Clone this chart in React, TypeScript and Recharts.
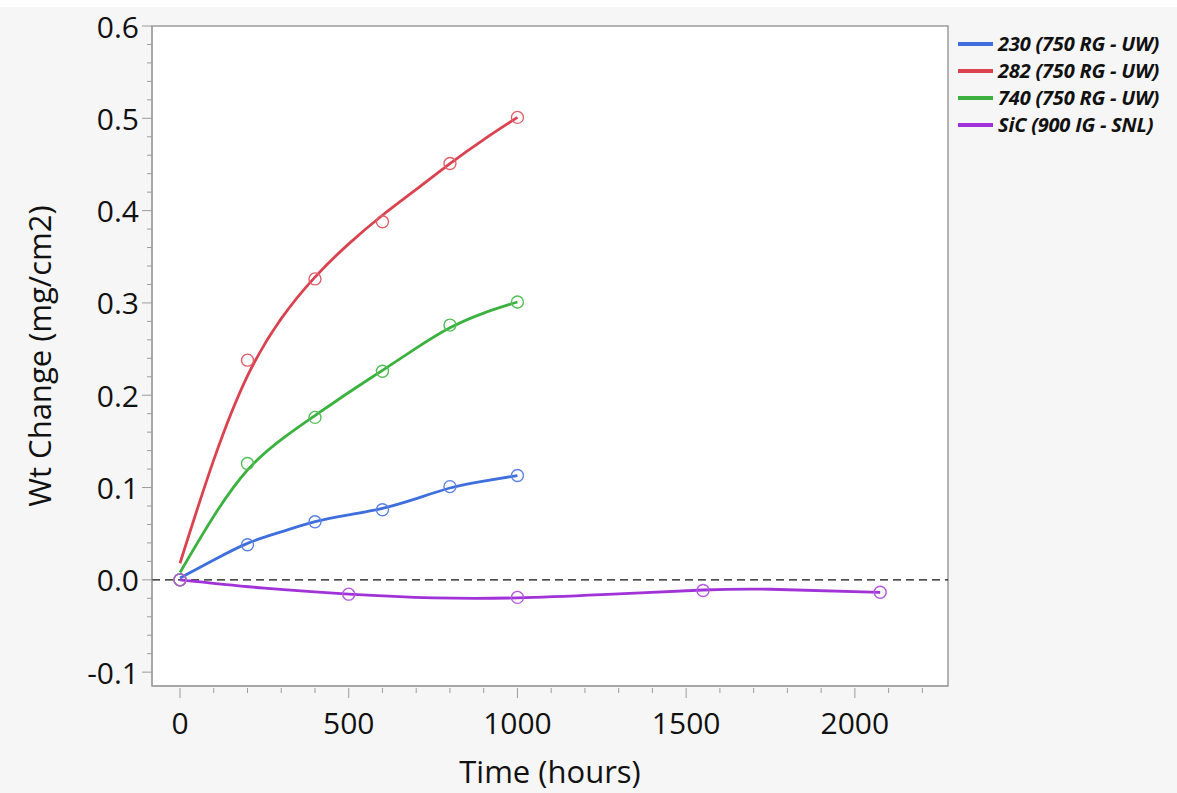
import { ComposedChart, Line, Scatter, XAxis, YAxis, ReferenceLine, ReferenceArea } from 'recharts';

// measured points (hours, mg/cm2)
const uwHours = [0, 200, 400, 600, 800, 1000];
const pts230 = [0, 0.038, 0.063, 0.076, 0.101, 0.113];
const pts282 = [0, 0.238, 0.326, 0.388, 0.451, 0.501];
const pts740 = [0, 0.126, 0.176, 0.226, 0.276, 0.301];
const sicHours = [0, 500, 1000, 1550, 2075];
const ptsSiC = [0, -0.0155, -0.019, -0.0115, -0.0135];

// smoothed fit curves
const fitHours = [0, 100, 200, 300, 400, 500, 600, 700, 800, 900, 1000];
const fit230 = [0.002, 0.0215, 0.0395, 0.052, 0.063, 0.0705, 0.0775, 0.088, 0.0995, 0.107, 0.113];
const fit282 = [0.018, 0.13, 0.221, 0.283, 0.328, 0.364, 0.395, 0.423, 0.451, 0.477, 0.501];
const fit740 = [0.008, 0.069, 0.119, 0.152, 0.178, 0.203, 0.227, 0.251, 0.273, 0.289, 0.301];
const fitSiCHours = [0, 250, 500, 750, 1000, 1250, 1550, 1750, 2075];
const fitSiC = [0, -0.009, -0.0155, -0.0195, -0.0195, -0.016, -0.011, -0.0102, -0.0135];

const yMajor = [-0.1, 0, 0.1, 0.2, 0.3, 0.4, 0.5, 0.6];
const xMajor = [0, 500, 1000, 1500, 2000];

const yTicks: number[] = [];
for (let i = -5; i <= 30; i++) yTicks.push(Math.round(i * 2) / 100);
const xTicks: number[] = [];
for (let i = 0; i <= 22; i++) xTicks.push(i * 100);

const toXY = (xs: number[], ys: number[]) => xs.map((x, i) => ({ x, y: ys[i] }));

const series = [
    { name: '230 (750 RG - UW)', color: '#3f6fdc', marker: '#5a82e4', pts: toXY(uwHours, pts230), fit: toXY(fitHours, fit230) },
    { name: '282 (750 RG - UW)', color: '#db4250', marker: '#e0606c', pts: toXY(uwHours, pts282), fit: toXY(fitHours, fit282) },
    { name: '740 (750 RG - UW)', color: '#3bb23f', marker: '#55bd58', pts: toXY(uwHours, pts740), fit: toXY(fitHours, fit740) },
    { name: 'SiC (900 IG - SNL)', color: '#a032d8', marker: '#b457e0', pts: toXY(sicHours, ptsSiC), fit: toXY(fitSiCHours, fitSiC) },
];

const FONT = '"Open Sans", "Noto Sans", sans-serif';
const AXIS = '#9c9c9c';

const YTick = (props: any) => {
    const { x, y, payload } = props;
    const v = payload.value as number;
    const major = yMajor.some((m) => Math.abs(m - v) < 1e-6);
    return (
        <g>
            <line x1={x} x2={x - (major ? 10 : 5)} y1={y} y2={y} stroke={AXIS} />
            {major && (
                <text x={x - 13} y={y} textAnchor="end" dominantBaseline="central" fontSize={30} fill="#111" fontFamily={FONT}>
                    {v.toFixed(1)}
                </text>
            )}
        </g>
    );
};

const XTick = (props: any) => {
    const { x, y, payload } = props;
    const v = payload.value as number;
    const major = xMajor.includes(v);
    return (
        <g>
            <line x1={x} x2={x} y1={y + 2} y2={y + (major ? 12 : 7)} stroke={AXIS} />
            {major && (
                <text x={x} y={y + 36} textAnchor="middle" dominantBaseline="central" fontSize={30} fill="#111" fontFamily={FONT}>
                    {v}
                </text>
            )}
        </g>
    );
};

const LegendBox = () => (
    <div
        style={{
            position: 'absolute',
            left: 958,
            top: 30,
            fontFamily: FONT,
            fontSize: 20,
            lineHeight: '27px',
            fontWeight: 700,
            fontStyle: 'italic',
            color: '#111',
            whiteSpace: 'nowrap',
            letterSpacing: -0.2,
        }}
    >
        {series.map((s) => (
            <div key={s.name} style={{ display: 'flex', alignItems: 'center', height: 27 }}>
                <span style={{ display: 'inline-block', width: 35, height: 4, background: s.color, marginRight: 5 }} />
                {s.name}
            </div>
        ))}
    </div>
);

export default function App() {
    return (
        <div
            style={{
                position: 'absolute',
                left: 0,
                top: 0,
                width: 1177,
                height: 793,
                overflow: 'hidden',
                background: 'linear-gradient(#ffffff 0 7px, #f6f6f6 7px)',
            }}
        >
            <ComposedChart width={1177} height={793} margin={{ top: 26, right: 229, bottom: 0, left: 0 }}>
                <ReferenceArea x1={-83} x2={2276} y1={-0.115} y2={0.6} fill="#ffffff" fillOpacity={1} stroke={AXIS} strokeWidth={1.5} ifOverflow="visible" />
                <XAxis
                    type="number"
                    dataKey="x"
                    domain={[-83, 2276]}
                    ticks={xTicks}
                    interval={0}
                    allowDataOverflow
                    height={107}
                    tickSize={0}
                    tickMargin={0}
                    tickLine={false}
                    axisLine={{ stroke: AXIS }}
                    tick={<XTick />}
                    label={{ value: 'Time (hours)', position: 'insideBottom', offset: 10, fontSize: 31, fill: '#111', fontFamily: FONT }}
                />
                <YAxis
                    type="number"
                    domain={[-0.115, 0.6]}
                    ticks={yTicks}
                    interval={0}
                    allowDataOverflow
                    width={152}
                    tickSize={0}
                    tickMargin={0}
                    tickLine={false}
                    axisLine={{ stroke: AXIS }}
                    tick={<YTick />}
                    label={{ value: 'Wt Change (mg/cm2)', angle: -90, position: 'insideLeft', offset: 40, fontSize: 31, fill: '#111', fontFamily: FONT, style: { textAnchor: 'middle' } }}
                />
                <ReferenceLine y={0} stroke="#111" strokeWidth={1.3} strokeDasharray="8 5" />
                {series.map((s) => (
                    <Line
                        key={`fit-${s.name}`}
                        data={s.fit}
                        dataKey="y"
                        type="natural"
                        stroke={s.color}
                        strokeWidth={2.8}
                        dot={false}
                        activeDot={false}
                        isAnimationActive={false}
                    />
                ))}
                {series.map((s) => (
                    <Scatter
                        key={`pts-${s.name}`}
                        data={s.pts}
                        dataKey="y"
                        isAnimationActive={false}
                        shape={(p: any) => <circle cx={p.cx} cy={p.cy} r={6} fill="none" stroke={s.marker} strokeWidth={1.4} />}
                    />
                ))}
            </ComposedChart>
            <LegendBox />
        </div>
    );
}
